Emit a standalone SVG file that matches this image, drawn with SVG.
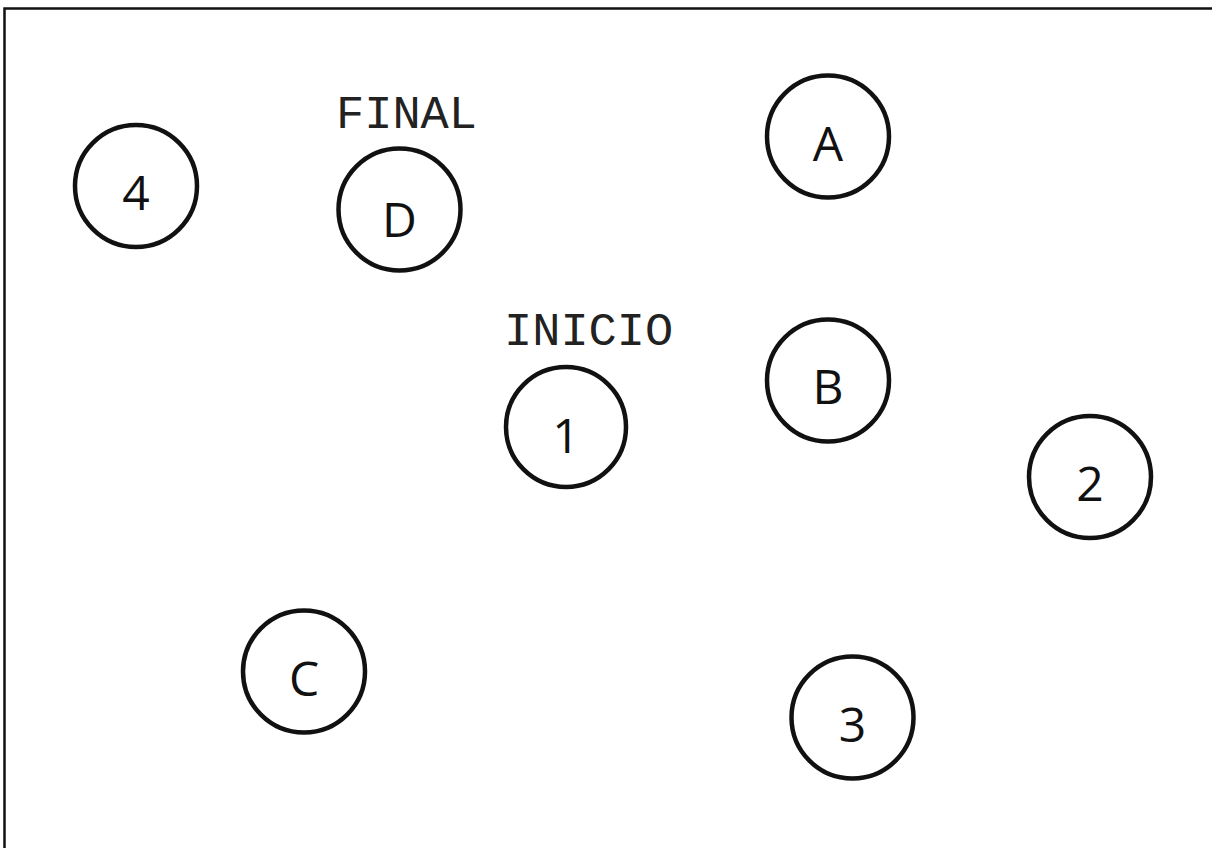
<svg xmlns="http://www.w3.org/2000/svg" width="1212" height="848" viewBox="0 0 1212 848">
<style>
.n circle{fill:none;stroke:#111;stroke-width:4.5}
.n text{font-family:"Open Sans","Liberation Sans",sans-serif;font-size:48px;fill:#111;text-anchor:middle}
.n text.lbl{font-family:"Liberation Mono","Courier New",monospace;font-size:47px;fill:#222;text-anchor:start}
</style>
<rect width="1212" height="848" fill="#fff"/>
<path d="M4.5,848 V8.5 H1212" fill="none" stroke="#111" stroke-width="2.5"/>
<g id="connectors"/>
<g id="node-4" class="n"><circle cx="136" cy="186" r="61"/><text x="136" y="210">4</text></g>
<g id="node-D" class="n"><circle cx="399.5" cy="209.5" r="61"/><text x="399.5" y="237">D</text><text class="lbl" x="336" y="128">FINAL</text></g>
<g id="node-A" class="n"><circle cx="828" cy="136.5" r="61"/><text x="828" y="161">A</text></g>
<g id="node-B" class="n"><circle cx="828" cy="380.5" r="61"/><text x="828" y="404">B</text></g>
<g id="node-1" class="n"><circle cx="566" cy="427" r="60"/><text x="566" y="453">1</text><text class="lbl" x="504" y="345">INICIO</text></g>
<g id="node-2" class="n"><circle cx="1090" cy="477" r="61"/><text x="1090" y="501">2</text></g>
<g id="node-C" class="n"><circle cx="304" cy="671.5" r="61"/><text x="304" y="696">C</text></g>
<g id="node-3" class="n"><circle cx="852.5" cy="717.5" r="61"/><text x="852.5" y="742">3</text></g>
</svg>
